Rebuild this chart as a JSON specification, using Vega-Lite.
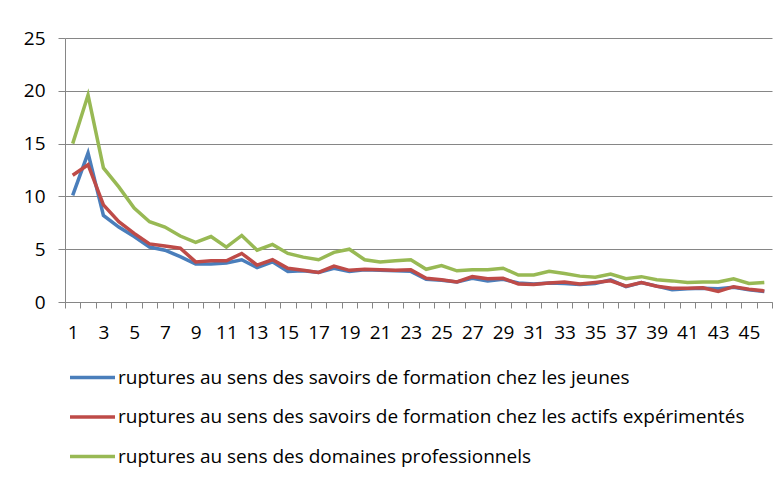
{
  "$schema": "https://vega.github.io/schema/vega-lite/v6.json",
  "width": 707,
  "height": 264,
  "autosize": "none",
  "padding": {"left": 65, "top": 38, "right": 12, "bottom": 178},
  "background": "white",
  "config": {"font": "Open Sans", "view": {"stroke": null}},
  "data": {
    "values": [
      {"x": 1, "jeunes": 10.1, "actifs": 12.0, "domaines": 15.0},
      {"x": 2, "jeunes": 14.1, "actifs": 13.0, "domaines": 19.6},
      {"x": 3, "jeunes": 8.2, "actifs": 9.2, "domaines": 12.7},
      {"x": 4, "jeunes": 7.1, "actifs": 7.6, "domaines": 10.9},
      {"x": 5, "jeunes": 6.2, "actifs": 6.5, "domaines": 8.9},
      {"x": 6, "jeunes": 5.2, "actifs": 5.5, "domaines": 7.6},
      {"x": 7, "jeunes": 4.9, "actifs": 5.3, "domaines": 7.1},
      {"x": 8, "jeunes": 4.3, "actifs": 5.1, "domaines": 6.25},
      {"x": 9, "jeunes": 3.6, "actifs": 3.8, "domaines": 5.65},
      {"x": 10, "jeunes": 3.6, "actifs": 3.9, "domaines": 6.2},
      {"x": 11, "jeunes": 3.7, "actifs": 3.9, "domaines": 5.2},
      {"x": 12, "jeunes": 4.0, "actifs": 4.6, "domaines": 6.3},
      {"x": 13, "jeunes": 3.25, "actifs": 3.5, "domaines": 4.9},
      {"x": 14, "jeunes": 3.8, "actifs": 4.0, "domaines": 5.45},
      {"x": 15, "jeunes": 2.9, "actifs": 3.2, "domaines": 4.6},
      {"x": 16, "jeunes": 2.95, "actifs": 3.0, "domaines": 4.25},
      {"x": 17, "jeunes": 2.8, "actifs": 2.8, "domaines": 4.0},
      {"x": 18, "jeunes": 3.2, "actifs": 3.4, "domaines": 4.7},
      {"x": 19, "jeunes": 2.9, "actifs": 3.0, "domaines": 5.0},
      {"x": 20, "jeunes": 3.05, "actifs": 3.1, "domaines": 4.0},
      {"x": 21, "jeunes": 3.0, "actifs": 3.05, "domaines": 3.8},
      {"x": 22, "jeunes": 2.95, "actifs": 3.0, "domaines": 3.9},
      {"x": 23, "jeunes": 2.9, "actifs": 3.05, "domaines": 4.0},
      {"x": 24, "jeunes": 2.15, "actifs": 2.25, "domaines": 3.1},
      {"x": 25, "jeunes": 2.05, "actifs": 2.1, "domaines": 3.45},
      {"x": 26, "jeunes": 1.9, "actifs": 1.9, "domaines": 2.95},
      {"x": 27, "jeunes": 2.25, "actifs": 2.4, "domaines": 3.05},
      {"x": 28, "jeunes": 2.0, "actifs": 2.2, "domaines": 3.05},
      {"x": 29, "jeunes": 2.15, "actifs": 2.25, "domaines": 3.2},
      {"x": 30, "jeunes": 1.8, "actifs": 1.7, "domaines": 2.55},
      {"x": 31, "jeunes": 1.7, "actifs": 1.65, "domaines": 2.55},
      {"x": 32, "jeunes": 1.8, "actifs": 1.8, "domaines": 2.9},
      {"x": 33, "jeunes": 1.75, "actifs": 1.9, "domaines": 2.7},
      {"x": 34, "jeunes": 1.65, "actifs": 1.7, "domaines": 2.45},
      {"x": 35, "jeunes": 1.75, "actifs": 1.85, "domaines": 2.35},
      {"x": 36, "jeunes": 2.1, "actifs": 2.0, "domaines": 2.65},
      {"x": 37, "jeunes": 1.45, "actifs": 1.5, "domaines": 2.2},
      {"x": 38, "jeunes": 1.85, "actifs": 1.85, "domaines": 2.4},
      {"x": 39, "jeunes": 1.5, "actifs": 1.5, "domaines": 2.1},
      {"x": 40, "jeunes": 1.15, "actifs": 1.3, "domaines": 2.0},
      {"x": 41, "jeunes": 1.25, "actifs": 1.3, "domaines": 1.85},
      {"x": 42, "jeunes": 1.3, "actifs": 1.35, "domaines": 1.9},
      {"x": 43, "jeunes": 1.25, "actifs": 1.0, "domaines": 1.9},
      {"x": 44, "jeunes": 1.4, "actifs": 1.45, "domaines": 2.2},
      {"x": 45, "jeunes": 1.15, "actifs": 1.2, "domaines": 1.75},
      {"x": 46, "jeunes": 1.0, "actifs": 1.05, "domaines": 1.85}
    ]
  },
  "transform": [{"fold": ["jeunes", "actifs", "domaines"], "as": ["serie", "valeur"]}],
  "mark": {"type": "line", "strokeWidth": 3.5, "clip": false},
  "encoding": {
    "x": {
      "field": "x",
      "type": "quantitative",
      "scale": {"domain": [0.5, 46.5], "nice": false, "zero": false},
      "axis": {
        "values": [0.5, 1.5, 2.5, 3.5, 4.5, 5.5, 6.5, 7.5, 8.5, 9.5, 10.5, 11.5, 12.5, 13.5, 14.5, 15.5, 16.5, 17.5, 18.5, 19.5, 20.5, 21.5, 22.5, 23.5, 24.5, 25.5, 26.5, 27.5, 28.5, 29.5, 30.5, 31.5, 32.5, 33.5, 34.5, 35.5, 36.5, 37.5, 38.5, 39.5, 40.5, 41.5, 42.5, 43.5, 44.5, 45.5, 46.5],
        "title": null,
        "grid": false,
        "labelExpr": "(datum.value < 46 && (datum.value + 0.5) % 2 == 1) ? format(datum.value + 0.5, 'd') : ''",
        "labelOffset": 7.68,
        "labelOverlap": false,
        "labelFlush": false,
        "labelBound": false,
        "tickSize": 6,
        "tickColor": "#868686",
        "domainColor": "#868686",
        "labelPadding": 15,
        "labelFontSize": 19,
        "labelColor": "#000000"
      }
    },
    "y": {
      "field": "valeur",
      "type": "quantitative",
      "scale": {"domain": [0, 25], "nice": false},
      "axis": {
        "values": [0, 5, 10, 15, 20, 25],
        "title": null,
        "grid": true,
        "gridColor": "#868686",
        "tickSize": 7,
        "tickColor": "#868686",
        "domainColor": "#868686",
        "labelPadding": 13,
        "labelFontSize": 19,
        "labelColor": "#000000"
      }
    },
    "color": {
      "field": "serie",
      "type": "nominal",
      "scale": {"domain": ["jeunes", "actifs", "domaines"], "range": ["#4A7EBB", "#BE4B48", "#98B954"]},
      "legend": {
        "orient": "none",
        "legendX": 3,
        "legendY": 315,
        "direction": "vertical",
        "title": null,
        "symbolType": "stroke",
        "symbolSize": 2025,
        "symbolStrokeWidth": 3.5,
        "labelFontSize": 19,
        "labelColor": "#000000",
        "labelLimit": 900,
        "labelOffset": 1,
        "rowPadding": 4.5,
        "labelExpr": "datum.label == 'jeunes' ? 'ruptures au sens des savoirs de formation chez les jeunes' : datum.label == 'actifs' ? 'ruptures au sens des savoirs de formation chez les actifs expérimentés' : 'ruptures au sens des domaines professionnels'"
      }
    }
  }
}
